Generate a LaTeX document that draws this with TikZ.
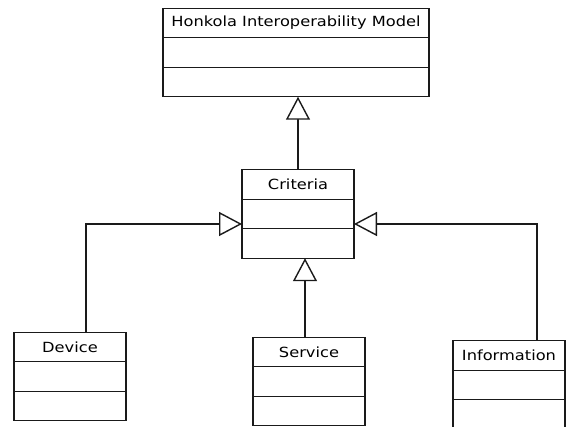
\documentclass[tikz,border=0pt]{standalone}
\usepackage{fontspec}
\usepackage{tikz}
\usepackage{xcolor}
\usetikzlibrary{positioning, arrows.meta}
\newfontfamily\umlfont[FakeStretch=1.16]{DejaVu Sans}
\definecolor{umlLine}{HTML}{1A1A1A}

\tikzset{
  umlpart/.style={draw=umlLine, line width=1.4pt, fill=white, inner sep=0pt,
    outer sep=0pt, minimum height=29.5pt, font=\umlfont\fontsize{14}{16}\selectfont},
  generalize/.style={draw=umlLine, line width=1.4pt,
    -{Triangle[open, length=23pt, width=24pt, fill=white]}},
}

\begin{document}
\begin{tikzpicture}[x=1pt, y=-1pt]
        \useasboundingbox (0,0) rectangle (566,427);
        % class boxes: title + two empty compartments
        \foreach \name/\x/\y/\w/\title in
          {model/296/23/266/Honkola Interoperability Model,
           criteria/298/184.5/112/Criteria,
           device/70/347/112/Device,
           service/309/352/112/Service,
           information/509/355.5/112/Information}{
          \node[umlpart, minimum width=\w pt] (\name) at (\x, \y) {\title};
          \node[umlpart, minimum width=\w pt, below=0pt of \name] (\name-a) {};
          \node[umlpart, minimum width=\w pt, below=0pt of \name-a] (\name-b) {};
        }
        % generalizations
        \draw[generalize] (criteria.north) -- (criteria.north |- model-b.south);
        \draw[generalize] ([xshift=-4pt]service.north)
          -- ([xshift=-4pt]service.north |- criteria-b.south);
        \draw[generalize] ([xshift=16pt]device.north) |- ([yshift=-10pt]criteria-a.west);
        \draw[generalize] ([xshift=28pt]information.north) |- ([yshift=-10pt]criteria-a.east);
      \end{tikzpicture}
\end{document}
